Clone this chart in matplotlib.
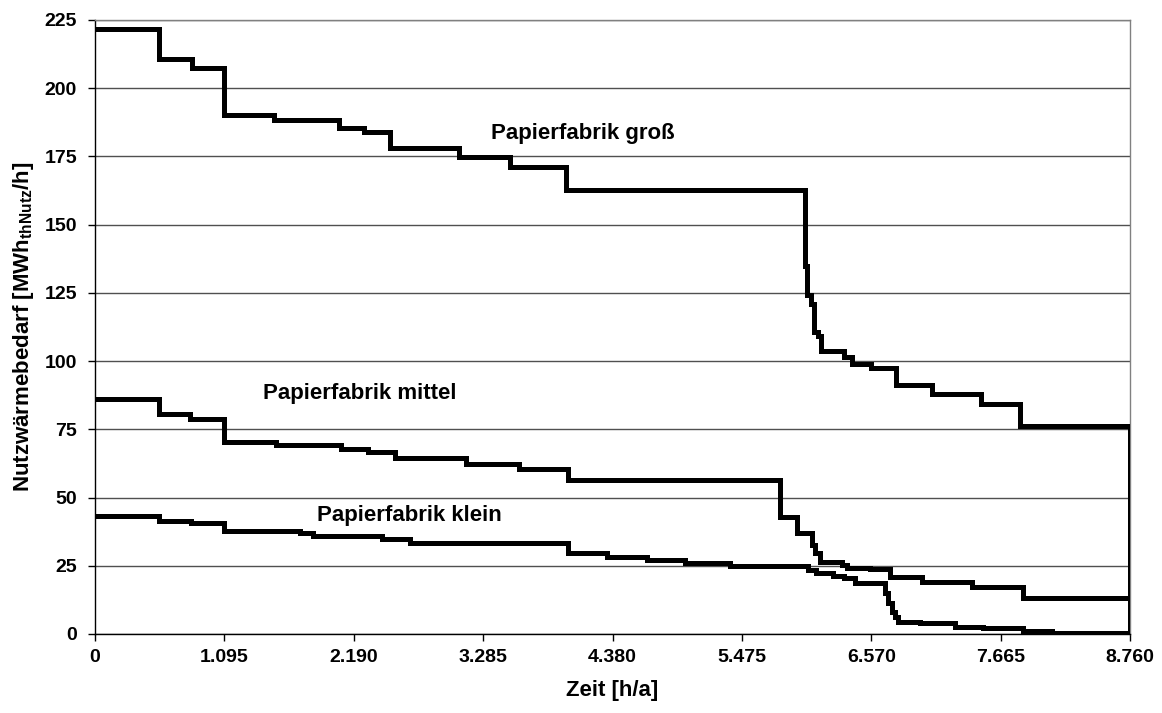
import matplotlib
matplotlib.use("Agg")
import matplotlib.pyplot as plt
from matplotlib.ticker import FixedLocator, FuncFormatter

plt.rcParams['font.family'] = ['Liberation Sans', 'DejaVu Sans']
plt.rcParams['font.weight'] = 'bold'
plt.rcParams['mathtext.fontset'] = 'custom'
plt.rcParams['mathtext.rm'] = 'Liberation Sans:bold'
plt.rcParams['mathtext.bf'] = 'Liberation Sans:bold'

# Annual load duration curves (hours from start of level, demand in MWh/h)
gross_hours = [0, 544, 818, 1095, 1518, 2068, 2277, 2497, 3081, 3513, 3987,
               6009, 6029, 6058, 6086, 6122, 6145, 6340, 6405, 6566, 6777,
               7082, 7497, 7829, 8760]
gross_demand = [221.6, 210.6, 207.5, 190.2, 188.3, 185.5, 183.8, 178.0, 174.8,
                171.2, 162.8, 135.0, 124.2, 121.0, 110.6, 109.1, 103.6, 101.6,
                98.8, 97.3, 91.2, 87.8, 84.3, 76.2, 0.0]

mittel_hours = [0, 544, 804, 1095, 1529, 2079, 2313, 2539, 3137, 3589, 4006,
                5798, 5939, 6066, 6094, 6136, 6320, 6362, 6560, 6729, 6997,
                7420, 7857, 8760]
mittel_demand = [86.0, 80.6, 78.8, 70.5, 69.3, 67.8, 66.8, 64.4, 62.4, 60.5,
                 56.6, 42.8, 37.1, 32.6, 29.6, 26.5, 25.3, 24.1, 23.8, 20.8,
                 18.9, 17.1, 13.1, 13.1]

klein_hours = [0, 544, 813, 1095, 1735, 1848, 2427, 2666, 4006, 4331, 4669,
               4994, 5375, 6038, 6100, 6250, 6340, 6430, 6690, 6714, 6743,
               6771, 6799, 6983, 7279, 7519, 7857, 8100, 8760]
klein_demand = [43.2, 41.4, 40.8, 37.9, 37.1, 35.9, 34.7, 33.2, 29.6, 28.3,
                27.1, 26.1, 24.9, 23.3, 22.2, 21.3, 20.4, 18.6, 14.9, 11.2,
                8.2, 6.3, 4.5, 3.9, 2.7, 2.1, 1.2, 0.2, 0.2]

x_ticks = [0, 1095, 2190, 3285, 4380, 5475, 6570, 7665, 8760]
y_ticks = [0, 25, 50, 75, 100, 125, 150, 175, 200, 225]

fig = plt.figure(figsize=(11.62, 7.13), dpi=100)
ax = fig.add_axes([95 / 1162, 1 - 634 / 713, (1130 - 95) / 1162, (634 - 20) / 713])

for hrs, vals in [(gross_hours, gross_demand), (mittel_hours, mittel_demand),
                  (klein_hours, klein_demand)]:
    ax.step(hrs, vals, where='post', color='black', lw=3.6,
            solid_joinstyle='miter', zorder=3)

ax.set_xlim(0, 8760)
ax.set_ylim(0, 225)
ax.xaxis.set_major_locator(FixedLocator(x_ticks))
ax.yaxis.set_major_locator(FixedLocator(y_ticks))
ax.xaxis.set_major_formatter(FuncFormatter(lambda v, p: f"{int(round(v)):,}".replace(',', '.')))
ax.yaxis.set_major_formatter(FuncFormatter(lambda v, p: f"{int(round(v))}"))

ax.grid(axis='y', color='#505050', lw=1.0, zorder=1)
ax.grid(axis='x', visible=False)
ax.set_axisbelow(True)

for side in ['left', 'bottom']:
    ax.spines[side].set_color('black')
    ax.spines[side].set_linewidth(1.0)
for side in ['top', 'right']:
    ax.spines[side].set_color('#808080')
    ax.spines[side].set_linewidth(1.0)

ax.tick_params(axis='both', direction='out', length=5, width=1, color='black',
               labelsize=14)
ax.tick_params(axis='y', pad=8)
ax.tick_params(axis='x', pad=6)

ax.set_xlabel('Zeit [h/a]', fontsize=16, fontweight='bold', labelpad=10)
ax.set_ylabel(r'Nutzwärmebedarf [$\mathbf{MWh}_{\mathbf{thNutz}}$/h]',
              fontsize=16, fontweight='bold', labelpad=6)

label_kw = dict(fontsize=16, fontweight='bold', va='center', ha='left', zorder=4)
ax.text(3355, 183.5, 'Papierfabrik groß', **label_kw)
ax.text(1420, 88.2, 'Papierfabrik mittel', **label_kw)
ax.text(1877, 43.6, 'Papierfabrik klein', **label_kw)

fig.savefig('out.png', dpi=100)
